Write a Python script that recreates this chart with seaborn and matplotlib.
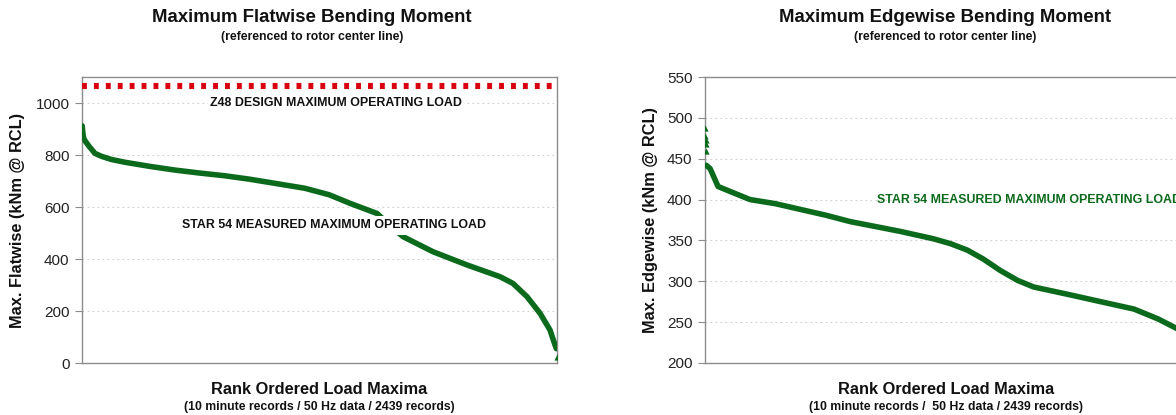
import matplotlib
matplotlib.use("Agg")
import matplotlib.pyplot as plt
import seaborn as sns
import pandas as pd

# ---------------- data ----------------
flat_rank = [1, 3, 6, 10, 20, 40, 67, 100, 150, 221, 350, 478, 600, 735, 860,
             991, 1145, 1270, 1377, 1516, 1580, 1649, 1803, 1978, 2147, 2214,
             2286, 2353, 2404, 2430, 2437]
flat_value = [912, 895, 875, 862, 850, 830, 806, 795, 783, 772, 756, 742, 731,
              720, 707, 691, 672, 647, 614, 575, 530, 486, 428, 377, 332, 306,
              255, 191, 127, 69, 55]
flat_out_rank = [2439]
flat_out_value = [24]

edge_out_rank = [1, 2, 3, 4, 5]
edge_out_value = [488, 478, 473, 468, 459]
edge_rank = [6, 26, 67, 128, 231, 360, 488, 617, 745, 874, 1002, 1171, 1259,
             1346, 1428, 1515, 1603, 1685, 1860, 2029, 2199, 2322, 2420]
edge_value = [442, 438, 416, 410, 400, 395, 388, 381, 373, 367, 361, 352, 346,
              338, 327, 313, 301, 293, 284, 275, 266, 254, 242]

design_load = 1065
flat_yticks = [0, 200, 400, 600, 800, 1000]
edge_yticks = [200, 250, 300, 350, 400, 450, 500, 550]

GREEN = "#0b6a1c"
RED = "#d9000f"
GRAY = "#8c8c8c"
INK = "#111111"

sns.set_style("white")
plt.rcParams["font.family"] = ["Liberation Sans", "DejaVu Sans"]

W, H = 1176, 415
fig = plt.figure(figsize=(W / 100, H / 100), dpi=100)

def px_ax(x0, x1, y0, y1):
    return fig.add_axes([x0 / W, 1 - y1 / H, (x1 - x0) / W, (y1 - y0) / H])

ax1 = px_ax(82, 557, 77, 363)
ax2 = px_ax(705, 1181, 77, 363)

df_flat = pd.DataFrame({"rank": flat_rank, "value": flat_value})
df_flat_out = pd.DataFrame({"rank": flat_out_rank, "value": flat_out_value})
df_edge = pd.DataFrame({"rank": edge_rank, "value": edge_value})
df_edge_out = pd.DataFrame({"rank": edge_out_rank, "value": edge_out_value})

for ax, df, dfo in [(ax1, df_flat, df_flat_out), (ax2, df_edge, df_edge_out)]:
    sns.lineplot(data=df, x="rank", y="value", ax=ax, color=GREEN, lw=4.0,
                 solid_capstyle="round", zorder=3)
    sns.scatterplot(data=dfo, x="rank", y="value", ax=ax, color=GREEN,
                    marker="^", s=20, linewidth=0, zorder=3)
    ax.set_xlim(0, 2440)
    ax.set_xticks([])
    ax.set_xlabel("")
    ax.set_ylabel("")
    ax.grid(axis="y", color="#cfcfcf", linestyle=(0, (1.5, 3)), lw=0.8)
    for s in ax.spines.values():
        s.set_color(GRAY)
        s.set_linewidth(1.0)
    ax.tick_params(axis="y", direction="out", length=5, width=0.8,
                   color=GRAY, labelsize=11, labelcolor="#222222", pad=4, left=True)

ax1.set_ylim(0, 1100)
ax1.set_yticks(flat_yticks)
ax2.set_ylim(200, 550)
ax2.set_yticks(edge_yticks)

# design load line
ax1.axhline(design_load, color=RED, lw=4.4, linestyle=(0, (0.8, 1.15)),
            dash_capstyle="butt", zorder=4)

# annotations
ax1.text(1305, 1000, "Z48 DESIGN MAXIMUM OPERATING LOAD", ha="center",
         va="center", fontsize=8.9, fontweight="bold", color=INK,
         bbox=dict(facecolor="white", edgecolor="none", pad=1.5), zorder=5)
ax1.text(1297, 530, "STAR 54 MEASURED MAXIMUM OPERATING LOAD", ha="center",
         va="center", fontsize=8.9, fontweight="bold", color=INK,
         bbox=dict(facecolor="white", edgecolor="none", pad=2.5), zorder=5)
ax2.text(880, 400, "STAR 54 MEASURED MAXIMUM OPERATING LOAD", ha="left",
         va="center", fontsize=8.9, fontweight="bold", color=GREEN, zorder=5)

# titles / labels
def ftext(x, y, s, **kw):
    fig.text(x / W, 1 - y / H, s, ha="center", va="center", **kw)

ftext(312, 18, "Maximum Flatwise Bending Moment", fontsize=13.4, fontweight="bold", color=INK)
ftext(312, 37, "(referenced to rotor center line)", fontsize=8.8, fontweight="bold", color=INK)
ftext(945, 18, "Maximum Edgewise Bending Moment", fontsize=13.4, fontweight="bold", color=INK)
ftext(945, 37, "(referenced to rotor center line)", fontsize=8.8, fontweight="bold", color=INK)

ftext(319, 389, "Rank Ordered Load Maxima", fontsize=11.8, fontweight="bold", color=INK)
ftext(319, 407, "(10 minute records / 50 Hz data / 2439 records)", fontsize=8.8, fontweight="bold", color=INK)
ftext(946, 389, "Rank Ordered Load Maxima", fontsize=11.8, fontweight="bold", color=INK)
ftext(946, 407, "(10 minute records /  50 Hz data / 2439 records)", fontsize=8.8, fontweight="bold", color=INK)

ftext(18, 220, "Max. Flatwise (kNm @ RCL)", fontsize=11.8, fontweight="bold", rotation=90, color=INK)
ftext(650, 220, "Max. Edgewise (kNm @ RCL)", fontsize=11.8, fontweight="bold", rotation=90, color=INK)

fig.savefig("out.png", dpi=100, facecolor="white")
